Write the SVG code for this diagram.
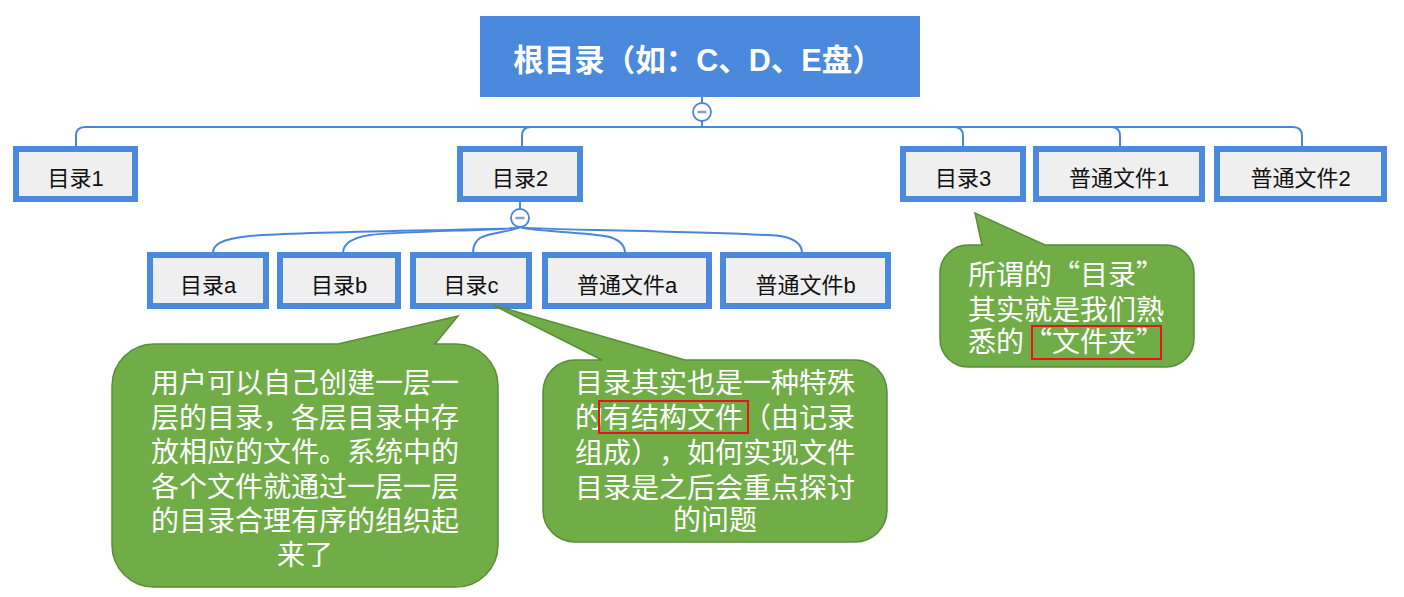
<svg xmlns="http://www.w3.org/2000/svg" width="1404" height="597" viewBox="0 0 1404 597">
<style>
.conn{fill:none;stroke:#4a86d8;stroke-width:2}
.node rect{fill:#efefef;stroke:#4a89dc;stroke-width:6}
.node text{font-family:"Liberation Sans","Noto Sans CJK SC",sans-serif;font-size:22px;fill:#111;text-anchor:middle}
.btn circle{fill:#fff;stroke:#4a86d8;stroke-width:1.8}
.btn line{stroke:#8a9cc8;stroke-width:2.5}
.callout path.shape{fill:#70ad47;stroke:#5b8c38;stroke-width:1.5}
.callout text{font-family:"Noto Sans CJK SC","Liberation Sans",sans-serif;font-size:28px;fill:#fff;text-spacing-trim:space-all}
.hl{fill:none;stroke:#e8141c;stroke-width:2}
</style>
<g id="connectors">
<line class="conn" x1="702" y1="96" x2="702" y2="103"/>
<line class="conn" x1="702" y1="121" x2="702" y2="127"/>
<path class="conn" d="M702 127 L85 127 Q76 127 76 136 L76 146"/>
<path class="conn" d="M702 127 L531 127 Q522 127 522 136 L522 147"/>
<path class="conn" d="M702 127 L954 127 Q963 127 963 136 L963 147"/>
<path class="conn" d="M702 127 L1111 127 Q1120 127 1120 136 L1120 147"/>
<path class="conn" d="M702 127 L1293 127 Q1302 127 1302 136 L1302 147"/>
<line class="conn" x1="520" y1="202" x2="520" y2="209"/>
<path class="conn" d="M520 227 C520 230 300 231 250 236 C220 239 213 245 213 253"/>
<path class="conn" d="M520 227 C520 230 400 231 370 235 C350 238 343 245 343 253"/>
<path class="conn" d="M520 227 C515 231 490 232 480 238 C474 242 473 247 473 253"/>
<path class="conn" d="M520 227 C525 231 590 232 610 237 C622 241 625 247 625 253"/>
<path class="conn" d="M520 227 C525 230 720 231 780 236 C798 239 802 246 802 253"/>
</g>
<g id="root">
<rect x="480" y="16" width="440" height="81" fill="#4a89dc"/>
<text x="698" y="71" font-family="Liberation Sans,'Noto Sans CJK SC',sans-serif" font-size="30.5" font-weight="bold" fill="#fff" text-anchor="middle" style="text-spacing-trim:space-all">根目录（如：C、D、E盘）</text>
</g>
<g id="btn-root" class="btn"><circle cx="702" cy="112" r="9"/><line x1="697.5" y1="112" x2="706.5" y2="112"/></g>
<g id="btn-dir2" class="btn"><circle cx="520" cy="218" r="9"/><line x1="515.5" y1="218" x2="524.5" y2="218"/></g>
<g id="dir1" class="node"><rect x="16" y="149" width="119" height="50"/><text x="75.5" y="186">目录1</text></g>
<g id="dir2" class="node"><rect x="460" y="149" width="120" height="50"/><text x="520" y="186">目录2</text></g>
<g id="dir3" class="node"><rect x="903" y="149" width="120" height="50"/><text x="963" y="186">目录3</text></g>
<g id="file1" class="node"><rect x="1036" y="149" width="166" height="50"/><text x="1119" y="186">普通文件1</text></g>
<g id="file2" class="node"><rect x="1217" y="149" width="167" height="50"/><text x="1300.5" y="186">普通文件2</text></g>
<g id="dira" class="node"><rect x="150" y="255" width="116" height="51"/><text x="208" y="293">目录a</text></g>
<g id="dirb" class="node"><rect x="280" y="255" width="118" height="51"/><text x="339" y="293">目录b</text></g>
<g id="dirc" class="node"><rect x="413" y="255" width="116" height="51"/><text x="471" y="293">目录c</text></g>
<g id="filea" class="node"><rect x="545" y="255" width="164" height="51"/><text x="627" y="293">普通文件a</text></g>
<g id="fileb" class="node"><rect x="723" y="255" width="165" height="51"/><text x="805.5" y="293">普通文件b</text></g>
<g id="callout1" class="callout">
<path class="shape" d="M154 344 L338 344 L458 316 L435 344 L456 344 A42 42 0 0 1 498 386 L498 545 A42 42 0 0 1 456 587 L154 587 A42 42 0 0 1 112 545 L112 386 A42 42 0 0 1 154 344 Z"/>
<text text-anchor="middle"><tspan x="305" y="393">用户可以自己创建一层一</tspan><tspan x="305" y="428">层的目录，各层目录中存</tspan><tspan x="305" y="462">放相应的文件。系统中的</tspan><tspan x="305" y="497">各个文件就通过一层一层</tspan><tspan x="305" y="531">的目录合理有序的组织起</tspan><tspan x="305" y="565">来了</tspan></text>
</g>
<g id="callout2" class="callout">
<path class="shape" d="M575 360 L602 360 L493 305 L685 360 L855 360 A32 32 0 0 1 887 392 L887 510 A32 32 0 0 1 855 542 L575 542 A32 32 0 0 1 543 510 L543 392 A32 32 0 0 1 575 360 Z"/>
<text text-anchor="middle"><tspan x="715" y="393">目录其实也是一种特殊</tspan><tspan x="715" y="428">的有结构文件（由记录</tspan><tspan x="715" y="463">组成），如何实现文件</tspan><tspan x="715" y="498">目录是之后会重点探讨</tspan><tspan x="715" y="530">的问题</tspan></text>
<rect class="hl" x="599" y="401" width="149" height="32"/>
</g>
<g id="callout3" class="callout">
<path class="shape" d="M968 245 L982 245 L975 213 L1045 245 L1166 245 A28 28 0 0 1 1194 273 L1194 339 A28 28 0 0 1 1166 367 L968 367 A28 28 0 0 1 940 339 L940 273 A28 28 0 0 1 968 245 Z"/>
<text><tspan x="968" y="285">所谓的“目录”</tspan><tspan x="968" y="320">其实就是我们熟</tspan><tspan x="968" y="352">悉的“文件夹”</tspan></text>
<rect class="hl" x="1032" y="326" width="129" height="33"/>
</g>
</svg>
